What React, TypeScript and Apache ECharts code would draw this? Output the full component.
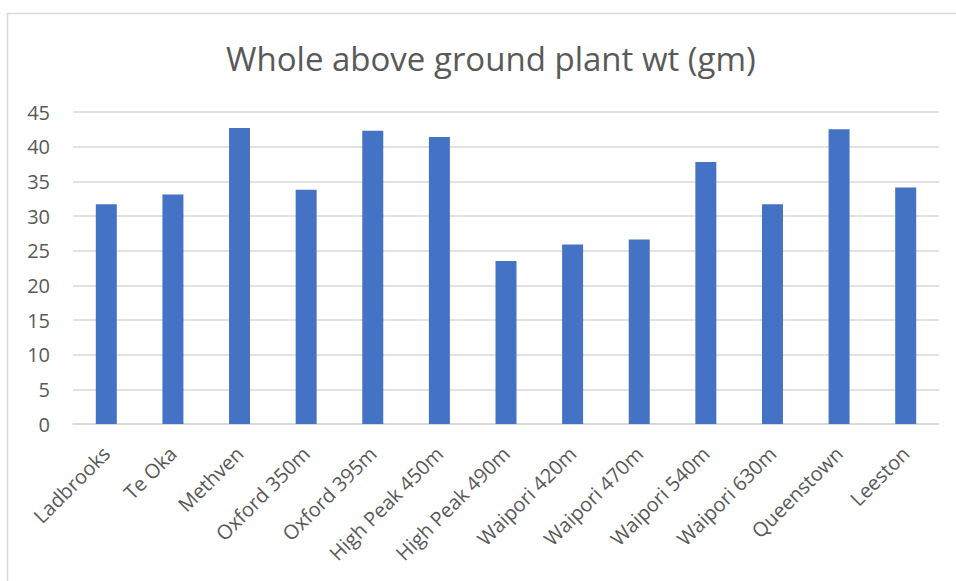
import React, { useEffect, useRef } from "react";
import * as echarts from "echarts";

const sites: string[] = [
  "Ladbrooks",
  "Te Oka",
  "Methven",
  "Oxford 350m",
  "Oxford 395m",
  "High Peak 450m",
  "High Peak 490m",
  "Waipori 420m",
  "Waipori 470m",
  "Waipori 540m",
  "Waipori 630m",
  "Queenstown",
  "Leeston",
];

const plantWeight: number[] = [
  31.7, 33.1, 42.7, 33.8, 42.3, 41.4, 23.5, 25.9, 26.6, 37.8, 31.7, 42.5, 34.1,
];

const chartTitle = "Whole above ground plant wt (gm)";

const FONT = "'Open Sans', 'Noto Sans', sans-serif";
const TEXT_COLOR = "#595959";
const GRID_COLOR = "#d9d9d9";
const BAR_COLOR = "#4472c4";

export default function App() {
  const ref = useRef<HTMLDivElement>(null);

  useEffect(() => {
    document.body.style.margin = "0";
    if (!ref.current) return;
    const chart = echarts.init(ref.current, null, { renderer: "svg" });
    chart.setOption({
      animation: false,
      backgroundColor: "#ffffff",
      title: {
        text: chartTitle,
        left: 221,
        top: 37,
        textStyle: {
          fontFamily: FONT,
          fontSize: 33,
          fontWeight: "normal",
          color: TEXT_COLOR,
        },
      },
      graphic: [
        {
          type: "rect",
          shape: { x: 7.5, y: 13.5, width: 1000, height: 1000 },
          style: { fill: "none", stroke: GRID_COLOR, lineWidth: 1.5 },
          silent: true,
        },
      ],
      grid: { left: 73, right: 17, top: 112, bottom: 157 },
      xAxis: {
        type: "category",
        data: sites,
        axisLine: { show: true, lineStyle: { color: GRID_COLOR, width: 1.5 } },
        axisTick: { show: false },
        axisLabel: {
          rotate: 45,
          interval: 0,
          margin: 26,
          fontFamily: FONT,
          fontSize: 20,
          color: TEXT_COLOR,
        },
      },
      yAxis: {
        type: "value",
        min: 0,
        max: 45,
        interval: 5,
        axisLine: { show: false },
        axisTick: { show: false },
        splitLine: { lineStyle: { color: GRID_COLOR, width: 1.5 } },
        axisLabel: {
          margin: 23,
          fontFamily: FONT,
          fontSize: 20,
          color: TEXT_COLOR,
        },
      },
      series: [
        {
          type: "bar",
          data: plantWeight,
          barWidth: "31.5%",
          itemStyle: { color: BAR_COLOR },
        },
      ],
    });
    return () => chart.dispose();
  }, []);

  return <div ref={ref} style={{ width: 956, height: 581 }} />;
}
